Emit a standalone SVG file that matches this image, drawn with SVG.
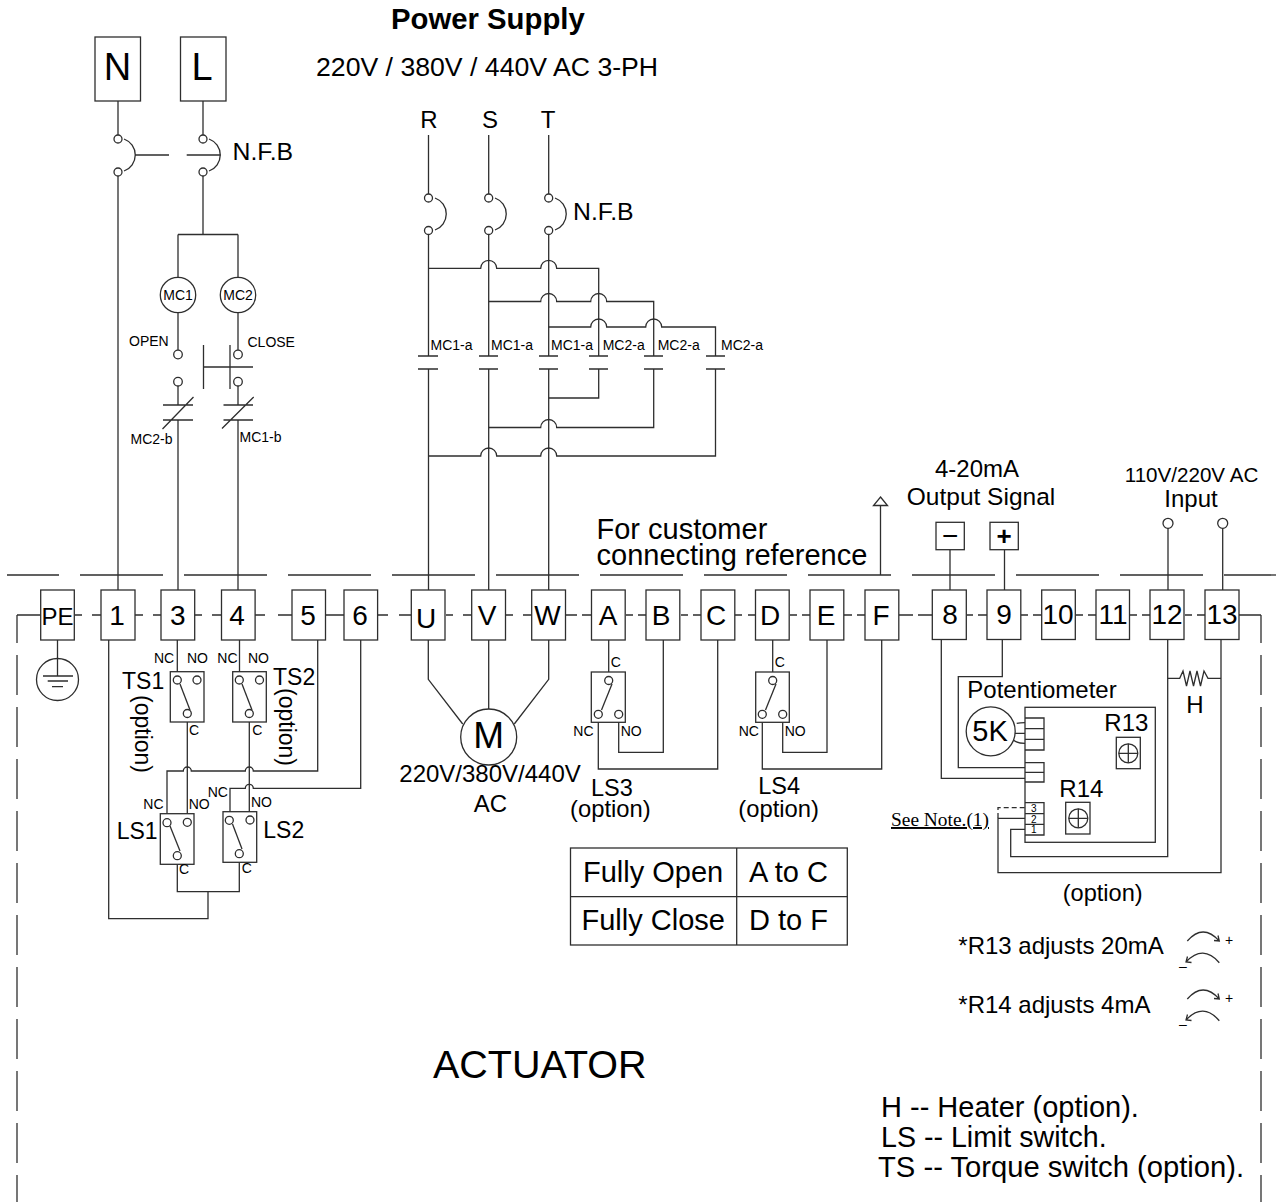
<svg xmlns="http://www.w3.org/2000/svg" width="1276" height="1202" viewBox="0 0 1276 1202">
<style>
text{font-family:"Liberation Sans",Arial,sans-serif;fill:#000}
.w{fill:none;stroke:#2e2e2e;stroke-width:1.3}
.b{fill:#fff;stroke:#2e2e2e;stroke-width:1.3}
.n{fill:none;stroke:#2e2e2e;stroke-width:1.3}
.c{fill:#fff;stroke:#2e2e2e;stroke-width:1.3}
.t{font-size:28px;text-anchor:middle}
.s{font-size:14px}
.m{font-size:24px}
.l{font-size:29px}
</style>
<rect width="1276" height="1202" fill="#fff"/>
<g id="connectors" class="w">
<path id="frame-top" d="M7 575H1276" stroke-dasharray="83 21" stroke-dashoffset="31"/>
<path id="frame-left" d="M17 615V1202" stroke-dasharray="40 12" stroke-dashoffset="12"/>
<path id="frame-right" d="M1261 615V1202" stroke-dasharray="40 12" stroke-dashoffset="12"/>
<path id="frame-mid" d="M17 615H41M75 615H82M92 615H101M135 615H143M153 615H161M195 615H202M212 615H221M255 615H265M278 615H292M326 615H344M378 615H388M399 615H411M446 615H453M463 615H472M506 615H513M523 615H532M566 615H577M582 615H591M626 615H633M638 615H646M681 615H688M693 615H701M735 615H742M748 615H756M790 615H797M802 615H810M844 615H852M857 615H865M899 615H913M918 615H932M967 615H973M978 615H987M1021 615H1028M1033 615H1042M1076 615H1083M1088 615H1096M1130 615H1137M1142 615H1150M1185 615H1192M1197 615H1205M1239 615H1261"/>
<!-- single phase -->
<path d="M118 101V135M118 176V590M203 101V135M203 176V234.5M178 234.5H238M178 234.5V277.5M238 234.5V277.5M178 313V350M238 313V350M178 386V405M238 386V405M178 420V590M238 420V590"/>
<path d="M135 155H169M186.7 155H220.5"/>
<path d="M203.5 345V389M230 345V389M203.5 367H253"/>
<path d="M163 405H193M163 420H193M162.5 429L193.5 397M223.5 405H253M223.5 420H253M222 428.5L253.7 397"/>
<!-- three phase -->
<path d="M428.5 135V194M488.7 135V194M548.7 135V194M428.5 235V356M488.7 235V356M548.7 235V356M428.5 369V590M488.7 369V590M548.7 369V590"/>
<path d="M418 356H438M479 356H498M539 356H558M589 356H608M644 356H663M706 356H725M418 369H438M479 369H498M539 369H558M589 369H608M644 369H663M706 369H725"/>
<path d="M428.5 268.3H480.7A8 8 0 0 1 496.7 268.3H540.7A8 8 0 0 1 556.7 268.3H598.7V356"/>
<path d="M488.7 301.5H540.7A8 8 0 0 1 556.7 301.5H590.7A8 8 0 0 1 606.7 301.5H653.7V356"/>
<path d="M548.7 327H590.7A8 8 0 0 1 606.7 327H645.7A8 8 0 0 1 661.7 327H715.5V356"/>
<path d="M598.7 369V398H548.7"/>
<path d="M653.7 369V427.5H556.7A8 8 0 0 0 540.7 427.5H488.7"/>
<path d="M715.5 369V456H556.7A8 8 0 0 0 540.7 456H496.7A8 8 0 0 0 480.7 456H428.5"/>
<!-- reference -->
<path d="M880.5 575V505.5M950 550V590M1004.5 550V590M1168 528V590M1222.7 528V590"/>
<!-- earth -->
<path d="M57.5 640V676"/>
<!-- torque and limit -->
<path d="M177.3 640V676M239.5 640V676M108.7 640V918.7H208V891.7M177.3 860V891.7H239.3V858"/>
<path d="M187.3 717.5V818M249.3 717.5V816"/>
<path d="M317.7 640V771H253.3A4 4 0 0 0 245.3 771H191.3A4 4 0 0 0 183.3 771H167V818.5"/>
<path d="M360.7 640V788.3H253.3A4 4 0 0 0 245.3 788.3H230V816"/>
<!-- motor -->
<path d="M428.3 640V679.3L462.7 724M488.7 640V709.5M548.7 640V679.3L514.3 724"/>
<!-- LS3 LS4 -->
<path d="M608.7 640V676M598.3 718.5V769H717.7V640M618.7 718.5V752.3H663.3V640"/>
<path d="M772.7 640V676M762.3 718.5V769H881.7V640M782.7 718.5V752.3H827V640"/>
<!-- terminal 8 9 12 13 -->
<path d="M941.3 640V778.3H1025M1002.3 640V676.7H958.3V767.7H1025"/>
<path d="M1025 818.3H998V872.7H1221V640M1025 829.3H1010.7V856.7H1167.7V640"/>
<path d="M998 818V807.7H1025" stroke-dasharray="5 3"/>
<path d="M1167.7 678.3H1179.7L1183 671L1186.5 686L1190 671L1193.5 686L1197 671L1200.5 686L1204 671L1208 678.3H1221"/>
<path d="M1016.7 723.3Q1020 722.7 1025 722.7M1015 733.3H1025M1013.3 740Q1017 743.3 1025 743.3"/>
</g>
<g id="breaker-single" class="w">
<path d="M124 139A17 17 0 0 1 124 171M209 139A17 17 0 0 1 209 171"/>
<circle class="c" cx="118" cy="139" r="4"/><circle class="c" cx="118" cy="172" r="4"/>
<circle class="c" cx="203" cy="139" r="4"/><circle class="c" cx="203" cy="172" r="4"/>
<text x="232.5" y="160" font-size="24.8" stroke="none">N.F.B</text>
</g>
<g id="breaker-three" class="w">
<path d="M435 198A17 17 0 0 1 435 230M495 198A17 17 0 0 1 495 230M555 198A17 17 0 0 1 555 230"/>
<circle class="c" cx="428.5" cy="198" r="4"/><circle class="c" cx="428.5" cy="230.5" r="4"/>
<circle class="c" cx="488.7" cy="198" r="4"/><circle class="c" cx="488.7" cy="230.5" r="4"/>
<circle class="c" cx="548.7" cy="198" r="4"/><circle class="c" cx="548.7" cy="230.5" r="4"/>
<text x="573" y="220" font-size="24.8" stroke="none">N.F.B</text>
</g>
<g id="node-N"><rect class="b" x="95" y="37" width="45.5" height="64"/><text x="117.5" y="80" font-size="38" text-anchor="middle">N</text></g>
<g id="node-L"><rect class="b" x="180.5" y="37" width="45.5" height="64"/><text x="202" y="80" font-size="38" text-anchor="middle">L</text></g>
<g id="coil-MC1"><circle class="c" cx="178" cy="295" r="17.7"/><text x="178" y="300" class="s" text-anchor="middle">MC1</text></g>
<g id="coil-MC2"><circle class="c" cx="238" cy="295" r="17.7"/><text x="238" y="300" class="s" text-anchor="middle">MC2</text></g>
<g id="pushbuttons">
<circle class="c" cx="178" cy="354.5" r="4.3"/><circle class="c" cx="238" cy="354.5" r="4.3"/>
<circle class="c" cx="178" cy="381.7" r="4.3"/><circle class="c" cx="238" cy="381.7" r="4.3"/>
<text x="129" y="346" class="s">OPEN</text><text x="247.5" y="347" class="s">CLOSE</text>
<text x="130.5" y="444" class="s">MC2-b</text><text x="239.5" y="442" class="s">MC1-b</text>
</g>
<g id="contact-labels" class="s">
<text x="430.5" y="350" class="s">MC1-a</text><text x="491" y="350" class="s">MC1-a</text><text x="551" y="350" class="s">MC1-a</text>
<text x="602.7" y="350" class="s">MC2-a</text><text x="657.7" y="350" class="s">MC2-a</text><text x="721" y="350" class="s">MC2-a</text>
</g>
<g id="power-supply">
<text x="391" y="29" font-size="29.3" font-weight="bold">Power Supply</text>
<text x="316" y="76" font-size="26.65">220V / 380V / 440V AC 3-PH</text>
<text x="429" y="128" font-size="24" text-anchor="middle">R</text>
<text x="490" y="128" font-size="24" text-anchor="middle">S</text>
<text x="548" y="128" font-size="24" text-anchor="middle">T</text>
</g>
<g id="customer-reference">
<path class="c" d="M880.5 497L887.5 505.5H873.5Z"/>
<text x="596.5" y="539" class="l">For customer</text>
<text x="596.5" y="565" class="l">connecting reference</text>
</g>
<g id="output-signal">
<text x="977" y="477" class="m" text-anchor="middle">4-20mA</text>
<text x="981" y="505" font-size="24.5" text-anchor="middle">Output Signal</text>
<rect class="b" x="936" y="522.3" width="28.3" height="27.4"/><text x="950.2" y="545" font-size="28" text-anchor="middle">−</text>
<rect class="b" x="990" y="522.3" width="28.3" height="27.4"/><text x="1004.2" y="545" font-size="26" font-weight="bold" text-anchor="middle">+</text>
</g>
<g id="ac-input">
<text x="1191.5" y="482" font-size="20.6" text-anchor="middle">110V/220V AC</text>
<text x="1191" y="507" class="m" text-anchor="middle">Input</text>
<circle class="c" cx="1168" cy="523.3" r="5"/><circle class="c" cx="1222.7" cy="523.3" r="5"/>
</g>
<g id="term-PE"><rect class="b" x="40.7" y="590" width="33.6" height="50"/><text x="57.5" y="625" font-size="24" text-anchor="middle">PE</text></g>
<g id="term-1"><rect class="b" x="101" y="590" width="34" height="50"/><text x="117" y="625" class="t">1</text></g>
<g id="term-3"><rect class="b" x="161" y="590" width="33.7" height="50"/><text x="177.8" y="625" class="t">3</text></g>
<g id="term-4"><rect class="b" x="221.5" y="590" width="33.6" height="50"/><text x="237" y="625" class="t">4</text></g>
<g id="term-5"><rect class="b" x="292" y="590" width="33.5" height="50"/><text x="308" y="625" class="t">5</text></g>
<g id="term-6"><rect class="b" x="344" y="590" width="33.6" height="50"/><text x="360" y="625" class="t">6</text></g>
<g id="term-U"><rect class="b" x="411.3" y="590" width="33.7" height="50"/><text x="426" y="628" class="t">U</text></g>
<g id="term-V"><rect class="b" x="471.7" y="590" width="33.8" height="50"/><text x="487" y="625" class="t">V</text></g>
<g id="term-W"><rect class="b" x="531.7" y="590" width="33.8" height="50"/><text x="547.5" y="625" class="t">W</text></g>
<g id="term-A"><rect class="b" x="591.5" y="590" width="33.7" height="50"/><text x="608" y="625" class="t">A</text></g>
<g id="term-B"><rect class="b" x="646" y="590" width="33.8" height="50"/><text x="661" y="625" class="t">B</text></g>
<g id="term-C"><rect class="b" x="701" y="590" width="33.8" height="50"/><text x="716" y="625" class="t">C</text></g>
<g id="term-D"><rect class="b" x="755.5" y="590" width="33.7" height="50"/><text x="770" y="625" class="t">D</text></g>
<g id="term-E"><rect class="b" x="810" y="590" width="33.8" height="50"/><text x="826" y="625" class="t">E</text></g>
<g id="term-F"><rect class="b" x="865" y="590" width="33.8" height="50"/><text x="881" y="625" class="t">F</text></g>
<g id="term-8"><rect class="b" x="932.3" y="590" width="34" height="49.5"/><text x="950" y="624" class="t">8</text></g>
<g id="term-9"><rect class="b" x="987" y="590" width="33.8" height="49.5"/><text x="1004" y="624" class="t">9</text></g>
<g id="term-10"><rect class="b" x="1041.7" y="590" width="33.6" height="49.5"/><text x="1058" y="624" class="t">10</text></g>
<g id="term-11"><rect class="b" x="1096" y="590" width="33.5" height="49.5"/><text x="1113" y="624" class="t">11</text></g>
<g id="term-12"><rect class="b" x="1150" y="590" width="34" height="49.5"/><text x="1167" y="624" class="t">12</text></g>
<g id="term-13"><rect class="b" x="1205" y="590" width="34" height="49.5"/><text x="1222" y="624" class="t">13</text></g>
<g id="earth"><circle class="n" cx="57.5" cy="679.5" r="21"/><path class="w" d="M43 676H73M47.7 681H68M52 686.7H63"/></g>
<g id="TS1"><rect class="b" x="170.3" y="671.7" width="33.7" height="50.3"/><path class="w" d="M180 684L190 710"/><circle class="c" cx="177.3" cy="680" r="4"/><circle class="c" cx="197" cy="680" r="4"/><circle class="c" cx="187.3" cy="713.5" r="4"/>
<text x="154" y="663" class="s">NC</text><text x="187" y="663" class="s">NO</text><text x="189" y="735" class="s">C</text>
<text x="122" y="689" font-size="23">TS1</text><text transform="translate(135,695) rotate(90)" font-size="23">(option)</text></g>
<g id="TS2"><rect class="b" x="232.7" y="671.7" width="33.6" height="50.3"/><path class="w" d="M242 684L252 710"/><circle class="c" cx="239.3" cy="680" r="4"/><circle class="c" cx="259.5" cy="680" r="4"/><circle class="c" cx="249.3" cy="713.5" r="4"/>
<text x="217.3" y="663" class="s">NC</text><text x="248" y="663" class="s">NO</text><text x="252.3" y="735" class="s">C</text>
<text x="273" y="685" font-size="23">TS2</text><text transform="translate(279,688) rotate(90)" font-size="23">(option)</text></g>
<g id="LS1"><rect class="b" x="160.3" y="813.7" width="33.7" height="50.6"/><path class="w" d="M170 826L180 851"/><circle class="c" cx="167" cy="822.7" r="4"/><circle class="c" cx="187.3" cy="822.3" r="4"/><circle class="c" cx="177.3" cy="855.7" r="4"/>
<text x="143.3" y="809" class="s">NC</text><text x="188.7" y="809" class="s">NO</text><text x="179" y="874" class="s">C</text>
<text x="116.7" y="839.3" font-size="23">LS1</text></g>
<g id="LS2"><rect class="b" x="223" y="811.7" width="33.7" height="50.6"/><path class="w" d="M232.5 824L242 849"/><circle class="c" cx="229.3" cy="820.3" r="4"/><circle class="c" cx="250" cy="820" r="4"/><circle class="c" cx="239.3" cy="853.7" r="4"/>
<text x="207.7" y="797" class="s">NC</text><text x="251" y="807" class="s">NO</text><text x="241.7" y="873" class="s">C</text>
<text x="263.3" y="837.7" font-size="23">LS2</text></g>
<g id="motor"><circle class="c" cx="488.7" cy="737" r="28"/><text x="488.7" y="748" font-size="37" text-anchor="middle">M</text>
<text x="399.3" y="781.7" class="m">220V/380V/440V</text><text x="490.3" y="811.7" class="m" text-anchor="middle">AC</text></g>
<g id="LS3"><rect class="b" x="591.3" y="672" width="34" height="50.3"/><path class="w" d="M612 684L601.5 710"/><circle class="c" cx="608.7" cy="680.5" r="4"/><circle class="c" cx="598.3" cy="714.3" r="4"/><circle class="c" cx="618.7" cy="714.3" r="4"/>
<text x="610.7" y="667.3" class="s">C</text><text x="573.3" y="735.7" class="s">NC</text><text x="620.7" y="735.7" class="s">NO</text>
<text x="591" y="795.7" font-size="23.5">LS3</text><text x="570" y="816.7" font-size="23.8">(option)</text></g>
<g id="LS4"><rect class="b" x="755.7" y="672" width="33.6" height="50.3"/><path class="w" d="M776 684L765.5 710"/><circle class="c" cx="772.7" cy="680.5" r="4"/><circle class="c" cx="762.3" cy="714.3" r="4"/><circle class="c" cx="782.7" cy="714.3" r="4"/>
<text x="774.7" y="667.3" class="s">C</text><text x="738.7" y="735.7" class="s">NC</text><text x="784.7" y="735.7" class="s">NO</text>
<text x="758.3" y="794.3" font-size="23.5">LS4</text><text x="738.3" y="816.7" font-size="23.8">(option)</text></g>
<g id="limit-table"><rect class="b" x="570.5" y="848" width="276.8" height="97"/><path class="w" d="M570.5 896.7H847.3M736.7 848V945"/>
<text x="583" y="882" font-size="29">Fully Open</text><text x="749" y="882" font-size="29">A to C</text>
<text x="581.5" y="930" font-size="29">Fully Close</text><text x="749" y="930" font-size="29">D to F</text></g>
<g id="potentiometer"><circle class="c" cx="990.7" cy="731.3" r="24.5"/><text x="990" y="741" font-size="29" text-anchor="middle">5K</text>
<text x="967.3" y="698.3" class="m">Potentiometer</text></g>
<g id="board"><rect class="n" x="1025" y="707.3" width="130.3" height="135"/>
<path class="w" d="M1025 718H1044V750H1025M1025 728.7H1044M1025 739.3H1044M1025 762.7H1044V782H1025M1025 772.3H1044M1025 802.7H1044V835H1025M1025 813.7H1044M1025 824.3H1044"/>
<text x="1033.7" y="812" font-size="10" text-anchor="middle">3</text><text x="1033.7" y="822.5" font-size="10" text-anchor="middle">2</text><text x="1033.7" y="833" font-size="10" text-anchor="middle">1</text>
<text x="1104.3" y="731" class="m">R13</text><text x="1059.3" y="796.7" class="m">R14</text>
<rect class="n" x="1116.3" y="737.3" width="24" height="31.4"/><circle class="n" cx="1128.3" cy="753.3" r="9.5"/><path class="w" d="M1118.8 753.3H1137.8M1128.3 743.8V762.8"/>
<rect class="n" x="1065.7" y="802.3" width="24.3" height="31.7"/><circle class="n" cx="1078.3" cy="818.3" r="9.5"/><path class="w" d="M1068.8 818.3H1087.8M1078.3 808.8V827.8"/></g>
<g id="see-note"><text x="891" y="826" font-size="19.4" style="font-family:'Liberation Serif',serif" text-decoration="underline">See Note.(1)</text></g>
<g id="heater-label"><text x="1195" y="713.3" class="m" text-anchor="middle">H</text></g>
<g id="option-label"><text x="1062.7" y="901" font-size="23.6">(option)</text></g>
<g id="adjust-R13"><text x="958.3" y="954" class="m">*R13 adjusts 20mA</text>
<path class="w" d="M1187.3 941Q1203 923 1219.3 941M1214 940.5L1219.3 941L1218 935.5M1219.3 962.7Q1203 944 1186 962M1191.5 962.5L1186 962L1187.5 956.5"/>
<text x="1229" y="945" class="s" text-anchor="middle">+</text><text x="1183" y="971" class="s" text-anchor="middle">–</text></g>
<g id="adjust-R14"><text x="958.3" y="1013" class="m">*R14 adjusts 4mA</text>
<path class="w" d="M1187.3 999Q1203 981 1219.3 999M1214 998.5L1219.3 999L1218 993.5M1219.3 1020.7Q1203 1002 1186 1020M1191.5 1020.5L1186 1020L1187.5 1014.5"/>
<text x="1229" y="1003" class="s" text-anchor="middle">+</text><text x="1183" y="1029" class="s" text-anchor="middle">–</text></g>
<g id="titles"><text x="433" y="1078" font-size="39.5">ACTUATOR</text>
<text x="881" y="1117" class="l">H -- Heater (option).</text>
<text x="881" y="1147" font-size="28.6">LS -- Limit switch.</text>
<text x="878" y="1177" font-size="29.2">TS -- Torque switch (option).</text></g>
</svg>
